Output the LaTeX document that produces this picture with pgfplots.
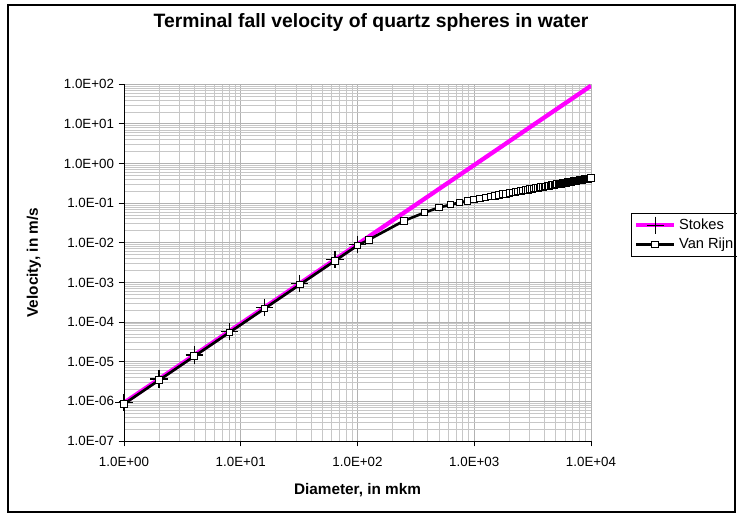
\documentclass[border=0pt]{standalone}
\usepackage{fontspec}
\setmainfont{Liberation Sans}
\usepackage{pgfplots}
\pgfplotsset{compat=1.18}
\definecolor{stokes}{RGB}{255,0,255}
\begin{document}
\begin{tikzpicture}
\path[use as bounding box] (0,0) rectangle (552.75pt,387pt);
\fill[white] (0,0) rectangle (552.75pt,387pt);
\begin{axis}[
 at={(93pt,56.25pt)}, anchor=south west,
 scale only axis, width=350.25pt, height=267.5pt,
 xmode=log, ymode=log,
 xmin=1, xmax=10000, ymin=1e-7, ymax=100,
 axis x line*=bottom, axis y line*=left,
 axis line style={black, line width=0.75pt, -},
 grid=both,
 major grid style={black!30, line width=0.75pt},
 minor grid style={black!22, line width=0.75pt},
 xtick={1,10,100,1000,10000},
 xticklabels={1.0E+00,1.0E+01,1.0E+02,1.0E+03,1.0E+04},
 ytick={1e-7,1e-6,1e-5,1e-4,1e-3,1e-2,1e-1,1,10,100},
 yticklabels={1.0E-07,1.0E-06,1.0E-05,1.0E-04,1.0E-03,1.0E-02,1.0E-01,1.0E+00,1.0E+01,1.0E+02},
 tick align=outside,
 major tick length=4pt,
 minor tick length=0pt,
 tick style={black, line width=0.75pt},
 ticklabel style={font=\fontsize{10}{12}\selectfont},
 xticklabel style={yshift=-4.5pt},
 title={Terminal fall velocity of quartz spheres in water},
 title style={font=\bfseries\fontsize{14.5}{17}\selectfont, at={(axis description cs:0.529,1.152)}, anchor=center},
 xlabel={Diameter, in mkm},
 xlabel style={font=\bfseries\fontsize{11.5}{13}\selectfont, at={(axis description cs:0.5,-0.1374)}, anchor=center},
 ylabel={Velocity, in m/s},
 ylabel style={font=\bfseries\fontsize{11.5}{13}\selectfont, at={(axis description cs:-0.193,0.5)}, anchor=center},
 legend style={at={(axis description cs:1.0857,0.639)}, anchor=north west, draw=black, line width=0.75pt, fill=white, font=\fontsize{11}{13}\selectfont, inner sep=2pt, row sep=1pt},
 legend cell align=left,
 legend image code/.code={\draw[mark repeat=2,mark phase=2,#1] plot coordinates {(0cm,0cm) (0.5cm,0cm) (1cm,0cm)};},
]
\addplot[stokes, line width=3.2pt, mark=+, mark size=6.5pt, mark options={black, line width=1pt}] coordinates {
(1,9.2e-7) (2,3.68e-6) (4,1.472e-5) (8,5.89e-5) (16,2.355e-4) (32,9.42e-4) (64,3.77e-3) (100,9.2e-3)
};
\addlegendentry{Stokes}
\addplot[stokes, line width=3.2pt, forget plot] coordinates {(100,9.2e-3) (10000,92)};
\addplot[black, line width=2pt, mark=square*, mark size=2.5pt, mark options={fill=white, draw=black, line width=0.75pt}] coordinates {
(1,8.6e-7) (2,3.44e-6) (4,1.376e-5) (8,5.50e-5) (16,2.20e-4) (32,8.81e-4) (64,3.52e-3) (100,8.6e-3)
(125,0.0120) (250,0.036) (375,0.058) (500,0.078) (625,0.092) (750,0.104) (875,0.115) (1000,0.124)
(1125,0.1321) (1250,0.1399) (1375,0.1473) (1500,0.1544) (1625,0.1612) (1750,0.1678) (1875,0.1741) (2000,0.1803)
(2125,0.1863) (2250,0.1921) (2375,0.1978) (2500,0.2034) (2625,0.2088) (2750,0.2141) (2875,0.2193) (3000,0.2244)
(3125,0.2294) (3250,0.2343) (3375,0.2392) (3500,0.2439) (3625,0.2486) (3750,0.2532) (3875,0.2577) (4000,0.2621)
(4125,0.2665) (4250,0.2709) (4375,0.2751) (4500,0.2794) (4625,0.2835) (4750,0.2876) (4875,0.2917) (5000,0.2957)
(5125,0.2997) (5250,0.3036) (5375,0.3075) (5500,0.3113) (5625,0.3151) (5750,0.3189) (5875,0.3226) (6000,0.3263)
(6125,0.3300) (6250,0.3336) (6375,0.3372) (6500,0.3407) (6625,0.3442) (6750,0.3477) (6875,0.3512) (7000,0.3546)
(7125,0.3580) (7250,0.3614) (7375,0.3648) (7500,0.3681) (7625,0.3714) (7750,0.3747) (7875,0.3779) (8000,0.3811)
(8125,0.3844) (8250,0.3875) (8375,0.3907) (8500,0.3938) (8625,0.3969) (8750,0.4000) (8875,0.4031) (9000,0.4062)
(9125,0.4092) (9250,0.4122) (9375,0.4152) (9500,0.4182) (9625,0.4212) (9750,0.4241) (9875,0.4271) (10000,0.4300)
};
\addlegendentry{Van Rijn}
\end{axis}
\draw[black, line width=1pt] (6pt,3pt) rectangle (551.25pt,383.25pt);
\end{tikzpicture}
\end{document}
